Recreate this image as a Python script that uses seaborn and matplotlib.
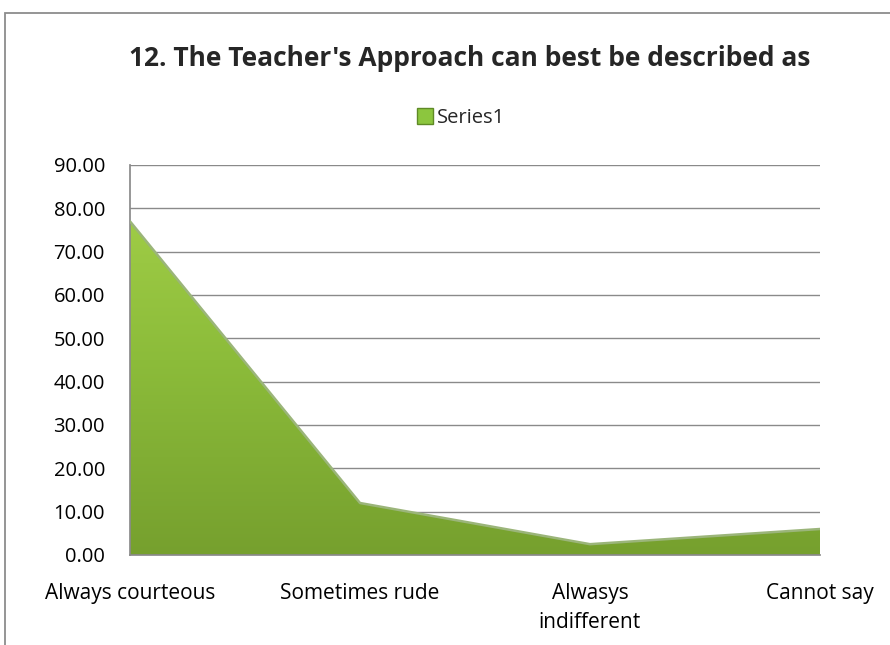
import numpy as np
import pandas as pd
import matplotlib
matplotlib.use("Agg")
import matplotlib.pyplot as plt
import seaborn as sns
from matplotlib.patches import Rectangle, Polygon
from matplotlib.colors import LinearSegmentedColormap

categories = ["Always courteous", "Sometimes rude", "Alwasys\nindifferent", "Cannot say"]
values = [77.0, 12.0, 2.5, 6.0]
yticks = [0, 10, 20, 30, 40, 50, 60, 70, 80, 90]
title = "12. The Teacher's Approach can best be described as"
series_name = "Series1"

sns.set_theme(style="white")
plt.rcParams['font.family'] = ['Open Sans', 'DejaVu Sans']

df = pd.DataFrame({"x": np.arange(len(categories)), "y": values})

fig = plt.figure(figsize=(8.9, 6.45), dpi=100)
ax = fig.add_axes([130/890, 1 - 555/645, 690/890, 390/645])

# outer frame
fig.patches.append(Rectangle((5/890, -0.1), 2.0, 1 - 13/645 + 0.1, transform=fig.transFigure,
                             fill=False, edgecolor="#8c8c8c", linewidth=1.3))

ax.set_xlim(0, 3)
ax.set_ylim(0, 90)
ax.set_yticks(yticks)
ax.set_yticklabels([f"{v:.2f}" for v in yticks], fontsize=14.5)
ax.yaxis.grid(True, color="#8a8a8a", linewidth=1.0)
ax.set_axisbelow(True)
for s in ["top", "right"]:
    ax.spines[s].set_visible(False)
ax.spines["left"].set_color("#8a8a8a")
ax.spines["bottom"].set_color("#8a8a8a")
ax.tick_params(axis="y", length=0, pad=18, colors="black")
ax.tick_params(axis="x", length=0, pad=20, colors="black")

# gradient fill clipped to area (light at top, darker at bottom)
xs = df["x"].to_numpy(dtype=float)
ys = df["y"].to_numpy(dtype=float)
poly_pts = np.column_stack([np.r_[xs, xs[::-1]], np.r_[ys, np.zeros_like(ys)]])
poly = Polygon(poly_pts, closed=True, facecolor="none", edgecolor="none")
ax.add_patch(poly)
cmap = LinearSegmentedColormap.from_list("g", ["#76a02e", "#8cbc3a", "#a6d24a"])
grad = np.linspace(0, 1, 256).reshape(-1, 1)
im = ax.imshow(grad, extent=[0, 3, 90, 0], aspect="auto", cmap=cmap, zorder=2)
im.set_clip_path(poly)
ax.set_ylim(0, 90)

sns.lineplot(data=df, x="x", y="y", ax=ax, color="#9bb57a", linewidth=1.8, zorder=3, legend=False)
ax.plot([], [], marker="s", linestyle="none", markersize=11, markerfacecolor="#8cc63e",
        markeredgecolor="#5f8a26", label=series_name)

ax.set_xticks(range(len(categories)))
ax.set_xticklabels(categories, fontsize=15, linespacing=1.5)
ax.set_xlabel("")
ax.set_ylabel("")

fig.text(470/890, 1 - 58/645, title, ha="center", va="center", fontsize=19, fontweight="bold")
leg = fig.legend(loc="center", bbox_to_anchor=(460/890, 1 - 118/645), frameon=False, fontsize=14.5,
                 handletextpad=0.05, handlelength=1.0, borderpad=0)

fig.savefig("out.png", dpi=100)
